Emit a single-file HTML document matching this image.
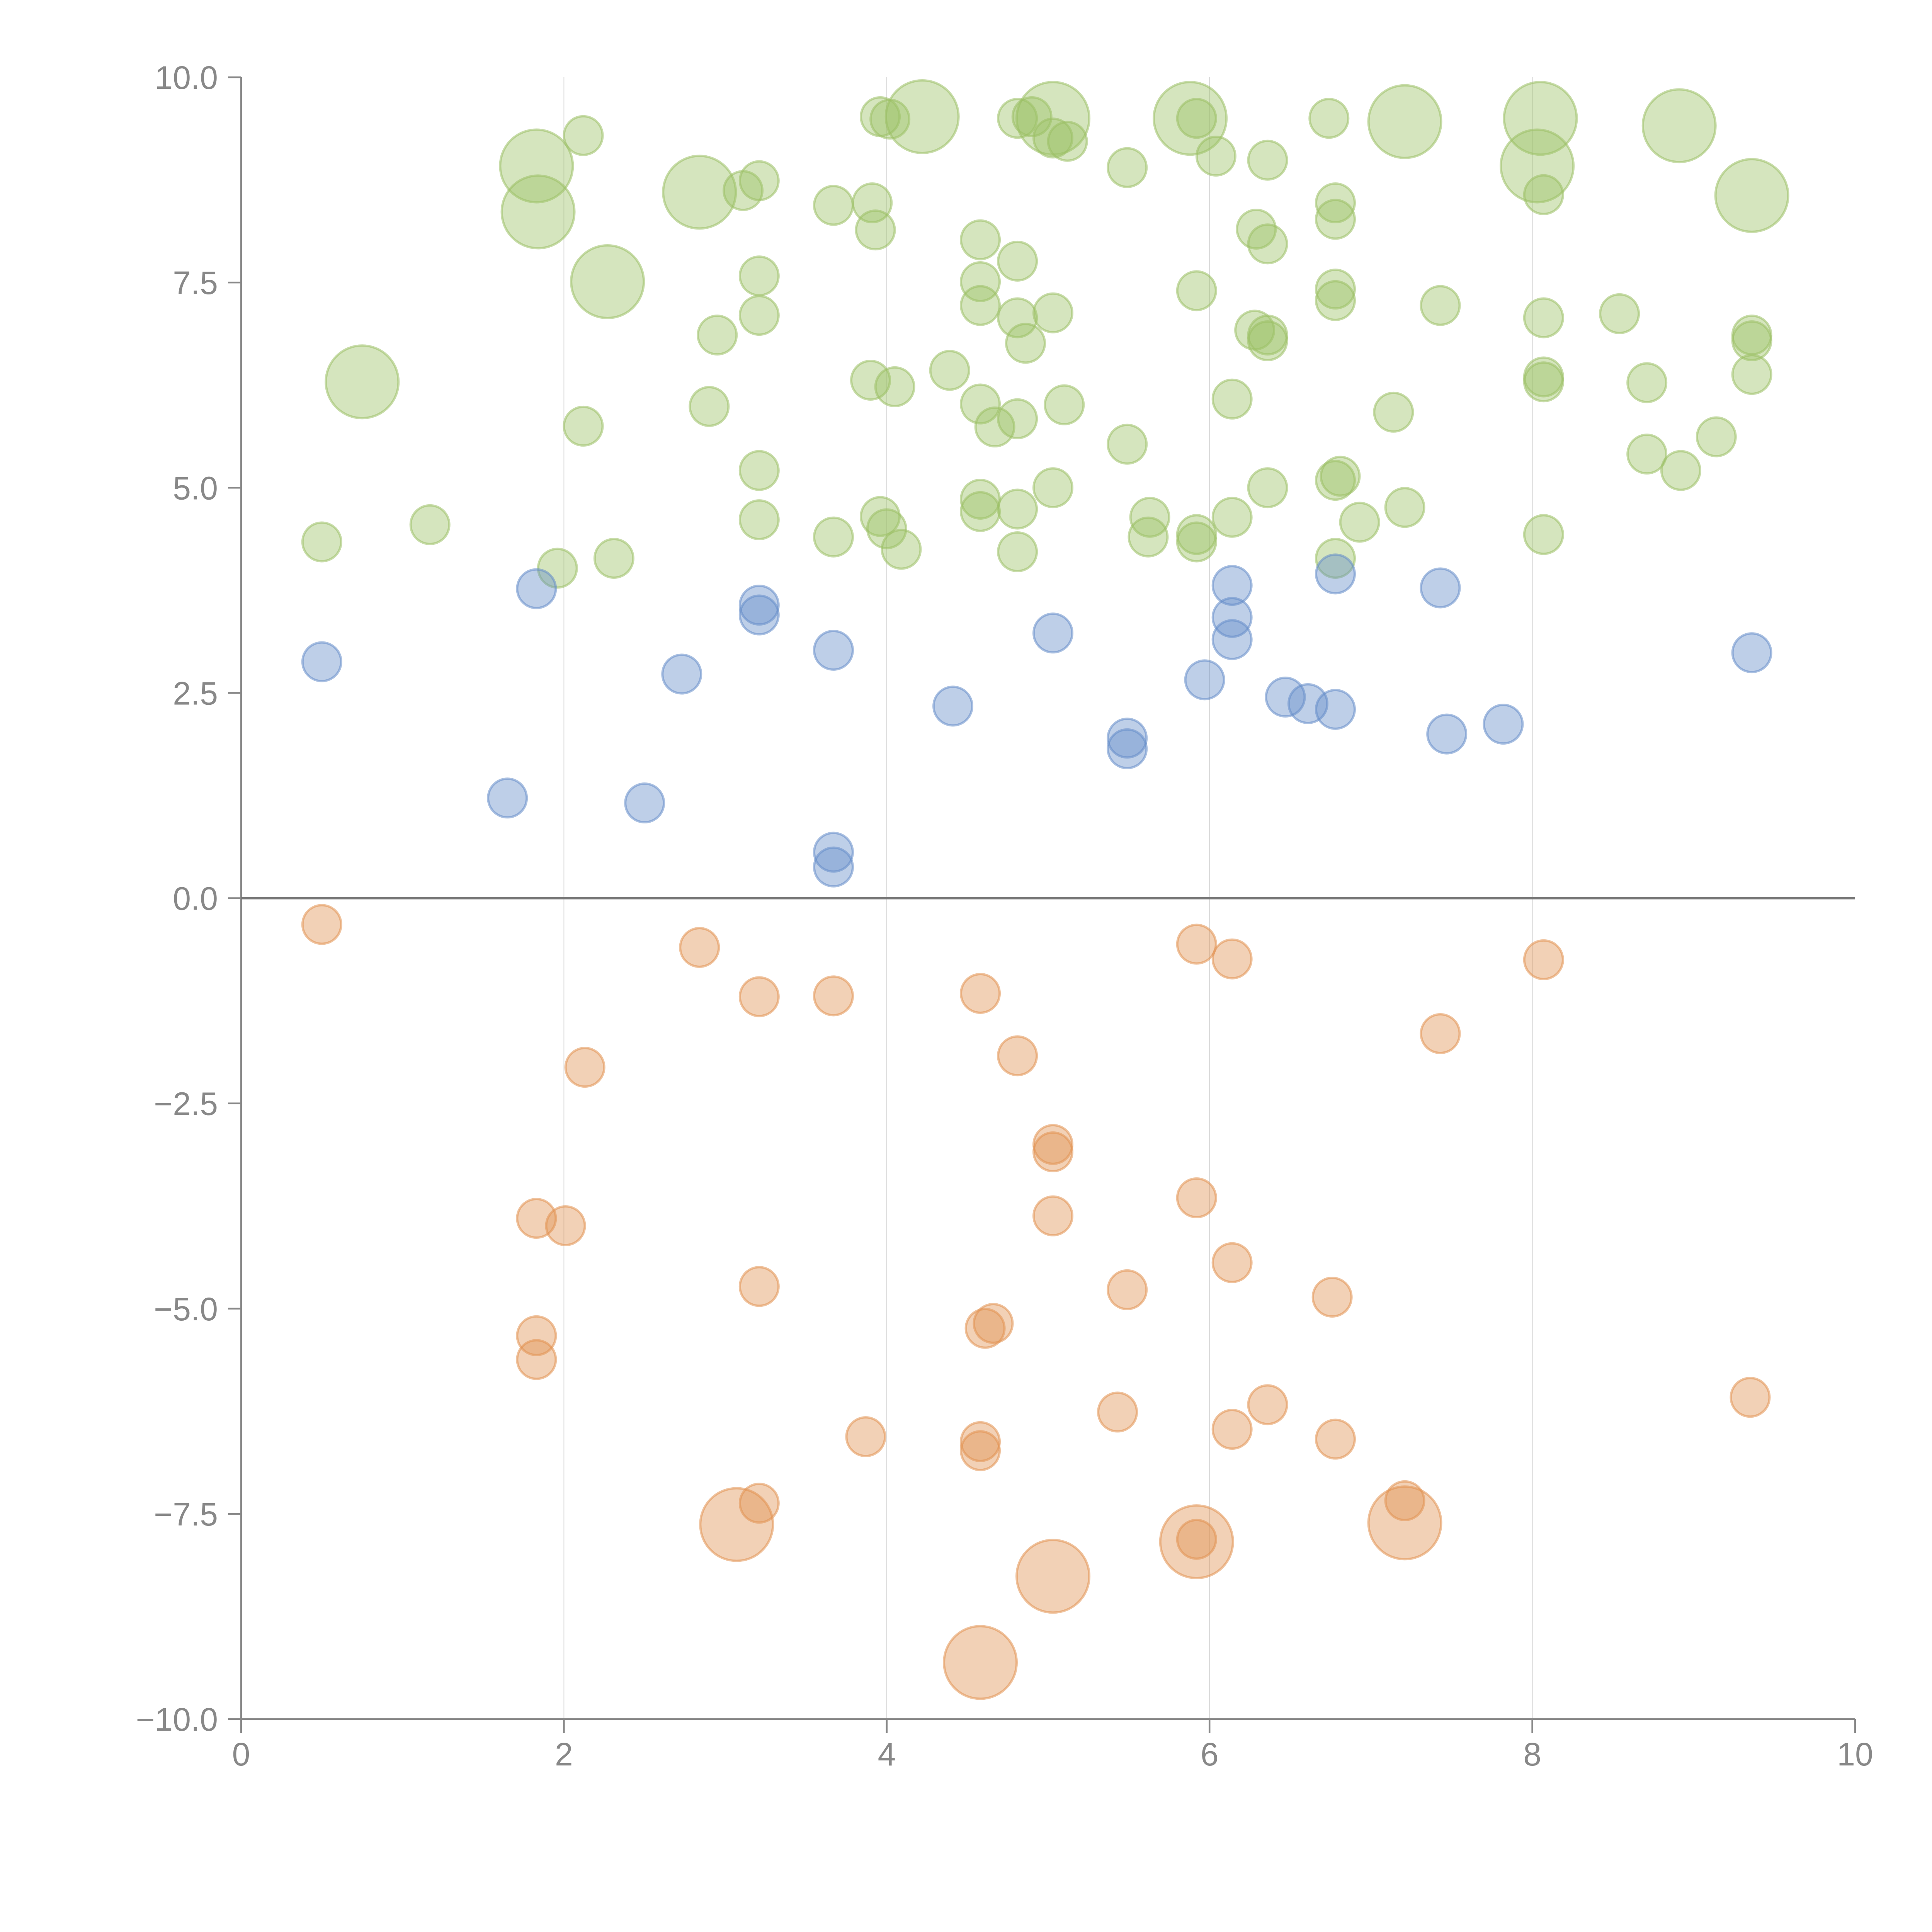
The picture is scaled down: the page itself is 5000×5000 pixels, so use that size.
<!DOCTYPE html>
<html><head><meta charset="utf-8"><style>
html,body{margin:0;padding:0;background:#fff;}
svg{display:block;font-family:"Liberation Sans",sans-serif;}
</style></head><body>
<svg id="chart" width="5000" height="5000" viewBox="0 0 5000 5000" xmlns="http://www.w3.org/2000/svg">
<g id="grid"></g>
<g id="axes"></g>
<g id="marks"></g>
</svg>
<script>
const xTicks=[0,2,4,6,8,10];
const yTicks=[10,7.5,5,2.5,0,-2.5,-5,-7.5,-10];
const yTickLabels=["10.0","7.5","5.0","2.5","0.0","\u22122.5","\u22125.0","\u22127.5","\u221210.0"];
const greenX=[0.50,1.17,0.75,1.83,1.84,2.12,2.12,1.96,2.31,2.27,2.84,2.95,2.90,3.11,3.21,3.21,3.21,3.21,3.21,3.67,3.67,3.90,3.91,3.93,3.96,4.02,4.22,3.96,4.00,4.09,4.05,4.39,4.58,4.58,4.58,4.58,4.58,4.58,4.67,4.81,4.81,4.86,4.81,4.81,4.81,4.81,4.90,5.03,5.03,5.12,5.03,5.10,5.03,5.49,5.49,5.63,5.62,5.92,5.92,5.92,5.88,5.92,6.04,6.14,6.14,6.29,6.36,6.36,6.28,6.36,6.36,6.36,6.74,6.78,6.78,6.78,6.78,6.78,6.81,6.78,6.93,7.14,7.21,7.21,7.43,8.05,8.03,8.07,8.07,8.07,8.07,8.07,8.54,8.71,8.71,8.91,8.92,9.14,9.36,9.36,9.36,9.36];
const greenY=[4.34,4.55,6.29,8.92,8.36,9.29,5.75,4.02,4.14,7.51,8.60,6.86,5.99,8.62,8.74,7.58,7.10,5.21,4.61,8.44,4.40,6.31,8.47,8.14,9.52,9.49,9.52,4.65,4.50,4.25,6.23,6.43,8.02,7.51,7.22,6.02,4.86,4.71,5.74,7.76,7.07,6.76,5.84,4.74,4.22,9.50,9.52,9.50,9.26,9.22,7.13,6.01,5.00,8.90,5.53,4.64,4.40,7.40,4.43,4.34,9.50,9.50,9.04,6.08,4.64,8.15,7.97,8.99,6.92,6.86,6.79,5.00,9.50,8.47,8.27,7.42,7.28,5.09,5.14,4.14,4.58,5.92,4.76,9.46,7.22,9.50,8.92,8.57,7.07,6.35,6.29,4.43,7.12,6.28,5.41,9.41,5.21,5.62,8.56,6.86,6.79,6.38];
const greenS=[1,1,2,2,2,1,1,1,1,2,2,1,1,1,1,1,1,1,1,1,1,1,1,1,1,1,2,1,1,1,1,1,1,1,1,1,1,1,1,1,1,1,1,1,1,1,1,2,1,1,1,1,1,1,1,1,1,1,1,1,2,1,1,1,1,1,1,1,1,1,1,1,1,1,1,1,1,1,1,1,1,1,1,2,1,2,2,1,1,1,1,1,1,1,1,2,1,1,2,1,1,1];
const blueX=[0.50,1.65,1.83,2.50,2.73,3.21,3.21,3.67,3.67,3.67,4.41,5.03,5.49,5.49,5.97,6.14,6.14,6.14,6.47,6.61,6.78,6.78,7.43,7.47,7.82,9.36];
const blueY=[2.88,1.22,3.77,1.16,2.73,3.57,3.45,3.02,0.56,0.38,2.34,3.23,1.95,1.82,2.66,3.81,3.42,3.15,2.45,2.37,2.30,3.95,3.78,2.00,2.12,2.99];
const orangeX=[0.50,2.84,3.21,3.67,4.58,2.13,4.81,5.92,6.14,8.07,7.43,5.03,5.03,5.92,5.03,1.83,2.01,6.14,3.21,5.49,6.76,1.83,1.83,4.66,4.61,5.43,6.36,9.35,3.87,4.58,4.58,6.14,6.78,3.21,3.07,7.21,7.21,5.92,5.92,5.03,4.58];
const orangeY=[-0.32,-0.60,-1.20,-1.19,-1.16,-2.06,-1.92,-0.56,-0.74,-0.75,-1.65,-3.00,-3.09,-3.65,-3.87,-3.90,-3.99,-4.44,-4.73,-4.77,-4.86,-5.33,-5.62,-5.18,-5.24,-6.26,-6.17,-6.08,-6.56,-6.62,-6.73,-6.47,-6.59,-7.37,-7.63,-7.34,-7.61,-7.81,-7.84,-8.26,-9.31];
const orangeS=[1,1,1,1,1,1,1,1,1,1,1,1,1,1,1,1,1,1,1,1,1,1,1,1,1,1,1,1,1,1,1,1,1,1,2,1,2,1,2,2,2];

const NS="http://www.w3.org/2000/svg";
const X0=624,X1=4801,Y0=4449,Y1=200;
function sx(v){return X0+(v-0)/(10-0)*(X1-X0);}
function sy(v){return Y0-(v+10)/20*(Y0-Y1);}
function mk(tag,attrs,parent){const e=document.createElementNS(NS,tag);for(const k in attrs)e.setAttribute(k,attrs[k]);parent.appendChild(e);return e;}
const grid=document.getElementById('grid'),axes=document.getElementById('axes'),marks=document.getElementById('marks');

xTicks.forEach(t=>{
  if(t>0&&t<10){const g=mk('line',{x1:sx(t),x2:sx(t),y1:Y1,y2:Y0,stroke:'#d8d8d8','stroke-width':2},grid);
  
  }
  const tk=mk('line',{x1:sx(t),x2:sx(t),y1:Y0,y2:Y0+36,stroke:'#888','stroke-width':4.5},axes);
  
  
  const lb=mk('text',{x:sx(t),y:Y0+120,'text-anchor':'middle','font-size':84,fill:'#888'},axes);
  lb.textContent=t;
  
  
});
yTicks.forEach((t,i)=>{
  const tk=mk('line',{x1:X0-34,x2:X0,y1:sy(t),y2:sy(t),stroke:'#888','stroke-width':4.5},axes);
  
  
  const lb=mk('text',{x:564,y:sy(t)+30,'text-anchor':'end','font-size':84,fill:'#888'},axes);
  lb.textContent=yTickLabels[i];
  
  
});
const ya=mk('line',{x1:X0,x2:X0,y1:Y1,y2:Y0,stroke:'#888','stroke-width':4.5},axes);


const xa=mk('line',{x1:X0,x2:X1,y1:Y0,y2:Y0,stroke:'#888','stroke-width':4.5},axes);



function series(xs,ys,ss,color,name){
  xs.forEach((x,i)=>{
    const r=(ss?ss[i]:1)===2?94:50;
    const c=mk('circle',{cx:sx(x),cy:sy(ys[i]),r:r,fill:color,'fill-opacity':0.42,stroke:color,'stroke-opacity':0.55,'stroke-width':6},marks);
    
    
  });
}
series(greenX,greenY,greenS,'rgb(155,192,100)','green-bubble');
series(blueX,blueY,null,'rgb(100,140,200)','blue-bubble');
series(orangeX,orangeY,orangeS,'rgb(225,145,80)','orange-bubble');

const zl=mk('line',{x1:X0,x2:X1,y1:sy(0),y2:sy(0),stroke:'#777','stroke-width':6},axes);


</script>
</body></html>
